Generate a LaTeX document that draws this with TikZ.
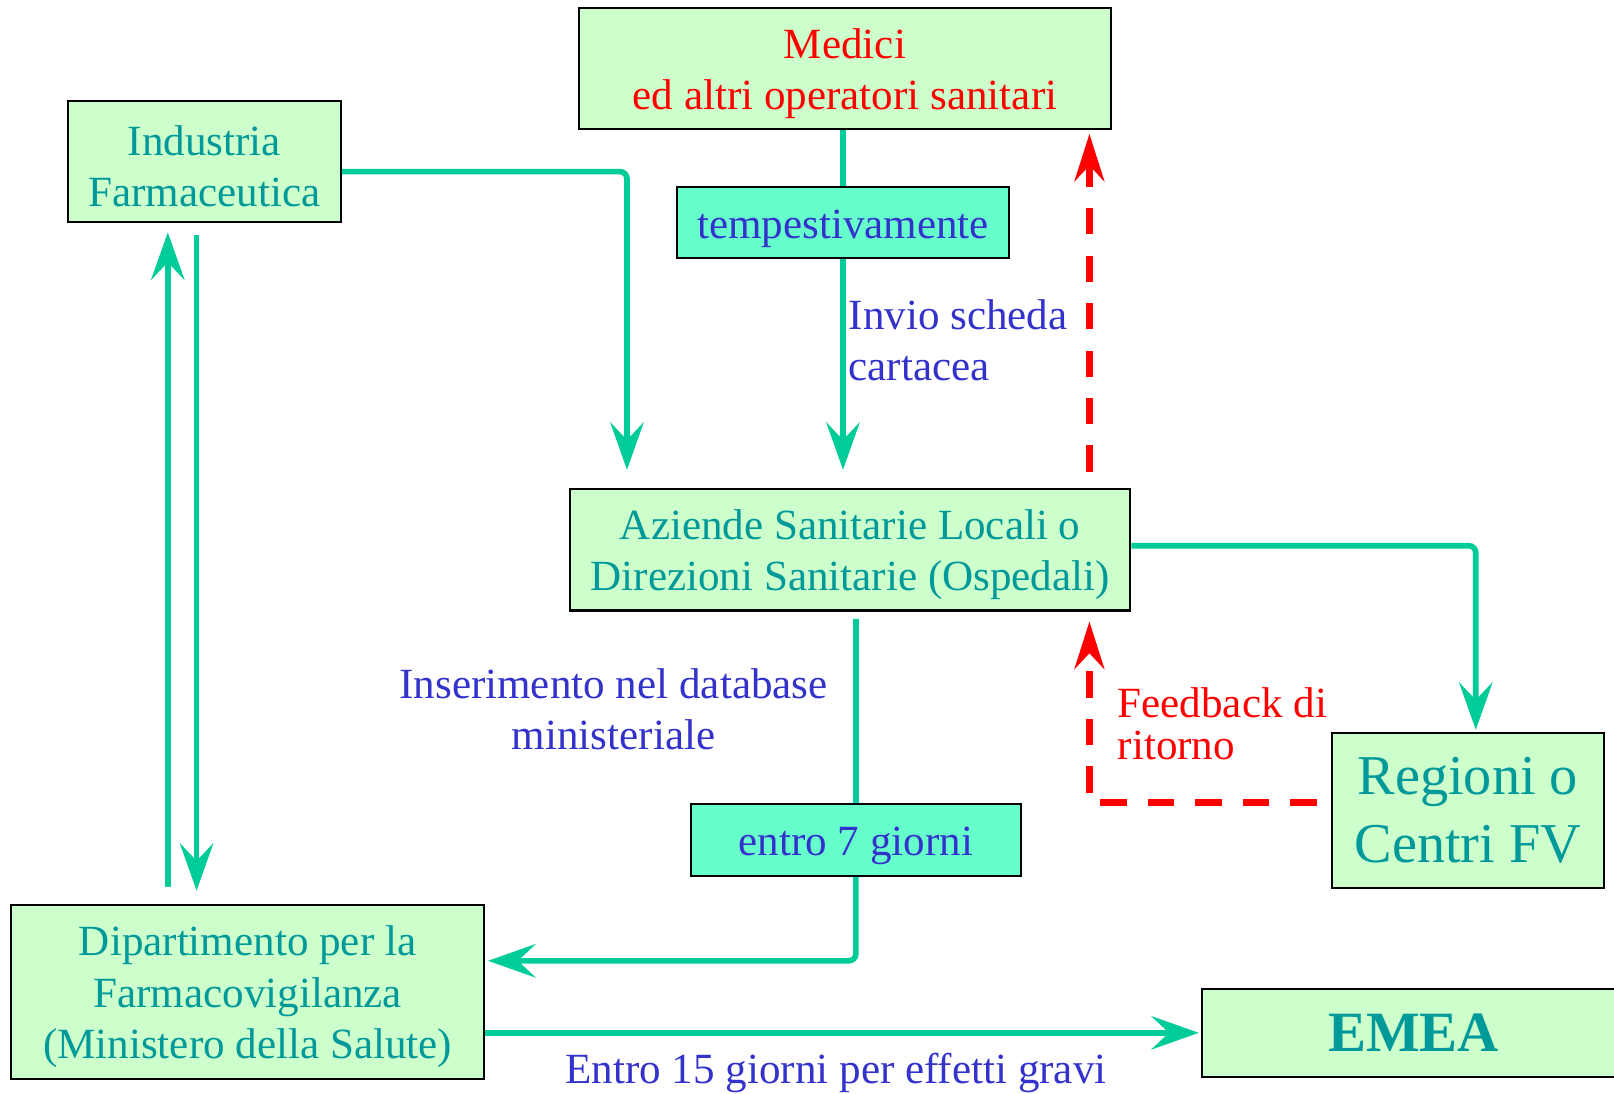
\documentclass[tikz,border=0pt]{standalone}
\usepackage{fontspec}
\setmainfont{Liberation Serif}
\usetikzlibrary{arrows.meta,positioning,calc}
\definecolor{fvGreen}{HTML}{CCFFCC}
\definecolor{fvTeal}{HTML}{009999}
\definecolor{fvLine}{HTML}{00CC99}
\definecolor{fvAqua}{HTML}{66FFCC}
\definecolor{fvBlue}{HTML}{3333CC}
\definecolor{fvRed}{HTML}{FF0000}
\newcommand{\fvup}{\rule{0pt}{11.3pt}}

\begin{document}
\begin{tikzpicture}[
      x=0.01cm, y=-0.01cm,
      box/.style={draw=black, line width=0.6pt, fill=fvGreen, text=fvTeal, align=center, inner sep=0pt, font=\fontsize{12.25}{14.6}\selectfont},
      tag/.style={box, fill=fvAqua, text=fvBlue, execute at begin node={\fvup}},
      lbl/.style={text=fvBlue, inner sep=0pt, align=center, font=\fontsize{12.25}{14.6}\selectfont},
      link/.style={line width=1.6pt, fvLine, rounded corners=2pt},
      arrow/.style={link, -{Stealth[length=13.5pt, width=9.5pt, inset=5pt]}},
      back/.style={-{Stealth[length=13.5pt, width=8.5pt, inset=4.5pt]}, line width=1.9pt, fvRed, dash pattern=on 7.5pt off 6pt}
    ]
      \useasboundingbox (0,0) rectangle (1614,1093);
      \node[box, text=fvRed, minimum width=5.31cm, minimum height=1.205cm] (medici) at (845,68.5) {\fvup Medici\\ed altri operatori sanitari};
      \node[box, minimum width=2.73cm, minimum height=1.214cm] (industria) at (204.3,161.6) {\fvup Industria\\Farmaceutica};
      \node[tag, minimum width=3.31cm, minimum height=0.71cm] (tempest) at (843,222.9) {tempestivamente};
      \node[box, minimum width=5.6cm, minimum height=1.215cm] (aziende) at (850.2,549.7) {\fvup Aziende Sanitarie Locali o\\Direzioni Sanitarie (Ospedali)};
      \node[tag, minimum width=3.3cm, minimum height=0.72cm] (entro) at (855.9,840) {entro 7 giorni};
      \node[box, minimum width=4.725cm, minimum height=1.739cm] (dipart) at (247.6,991.8) {\fvup Dipartimento per la\\Farmacovigilanza\\(Ministero della Salute)};
      \node[box, minimum width=2.718cm, minimum height=1.554cm, font=\fontsize{16}{19.4}\selectfont] (regioni) at (1467.8,810.6) {Regioni o\\Centri FV};
      \node[box, minimum width=4.23cm, minimum height=0.877cm, font=\fontsize{16.2}{20}\selectfont\bfseries] (emea) at (1413.5,1032.8) {EMEA};

      % labels
      \node[lbl, anchor=west, align=left] (invio) at (848,340) {Invio scheda\\cartacea};
      \node[lbl] (inser) at (613.5,709) {Inserimento nel database\\ministeriale};
      \node[lbl, text=fvRed, anchor=west, align=left, font=\fontsize{12.25}{12}\selectfont] (feed) at (1117,724) {Feedback di\\ritorno};
      \node[lbl] (gravi) at (836,1073) {Entro 15 giorni per effetti gravi};

      % helper points
      \coordinate (ua) at ($(industria.south)+(-36.5,0)$);
      \coordinate (da) at ($(industria.south)+(-7.7,0)$);
      \coordinate (fb) at ($(aziende.south east)+(-42,0)$);

      \draw[link] (tempest.north) -- (tempest.north |- medici.south);
      \draw[arrow, shorten >=0.18cm] (tempest.south) -- (tempest.south |- aziende.north);
      \draw[arrow, shorten >=0.18cm] ($(industria.east)+(0,10)$) -| ($(aziende.north west)+(58,0)$);
      \draw[back, shorten <=0.16cm, shorten >=0.04cm] (fb |- aziende.north) -- (fb |- medici.south);
      \draw[arrow, shorten >=0.02cm] ($(aziende.east)+(0,-4)$) -| ($(regioni.north)+(8,0)$);
      \draw[link, shorten >=0.07cm] (entro.north) -- (entro.north |- aziende.south);
      \draw[arrow, shorten >=0.03cm] (entro.south) |- ($(dipart.east)+(0,-31)$);
      \draw[back, shorten <=0.14cm, shorten >=0.1cm] ($(regioni.west)+(0,-8)$) -| (fb);
      \draw[arrow, shorten <=0.17cm, shorten >=0.09cm] (ua |- dipart.north) -- (ua);
      \draw[arrow, shorten <=0.12cm, shorten >=0.13cm] (da) -- (da |- dipart.north);
      \draw[arrow, shorten >=0.02cm] (emea.west -| dipart.east) -- (emea.west);
    \end{tikzpicture}
\end{document}
